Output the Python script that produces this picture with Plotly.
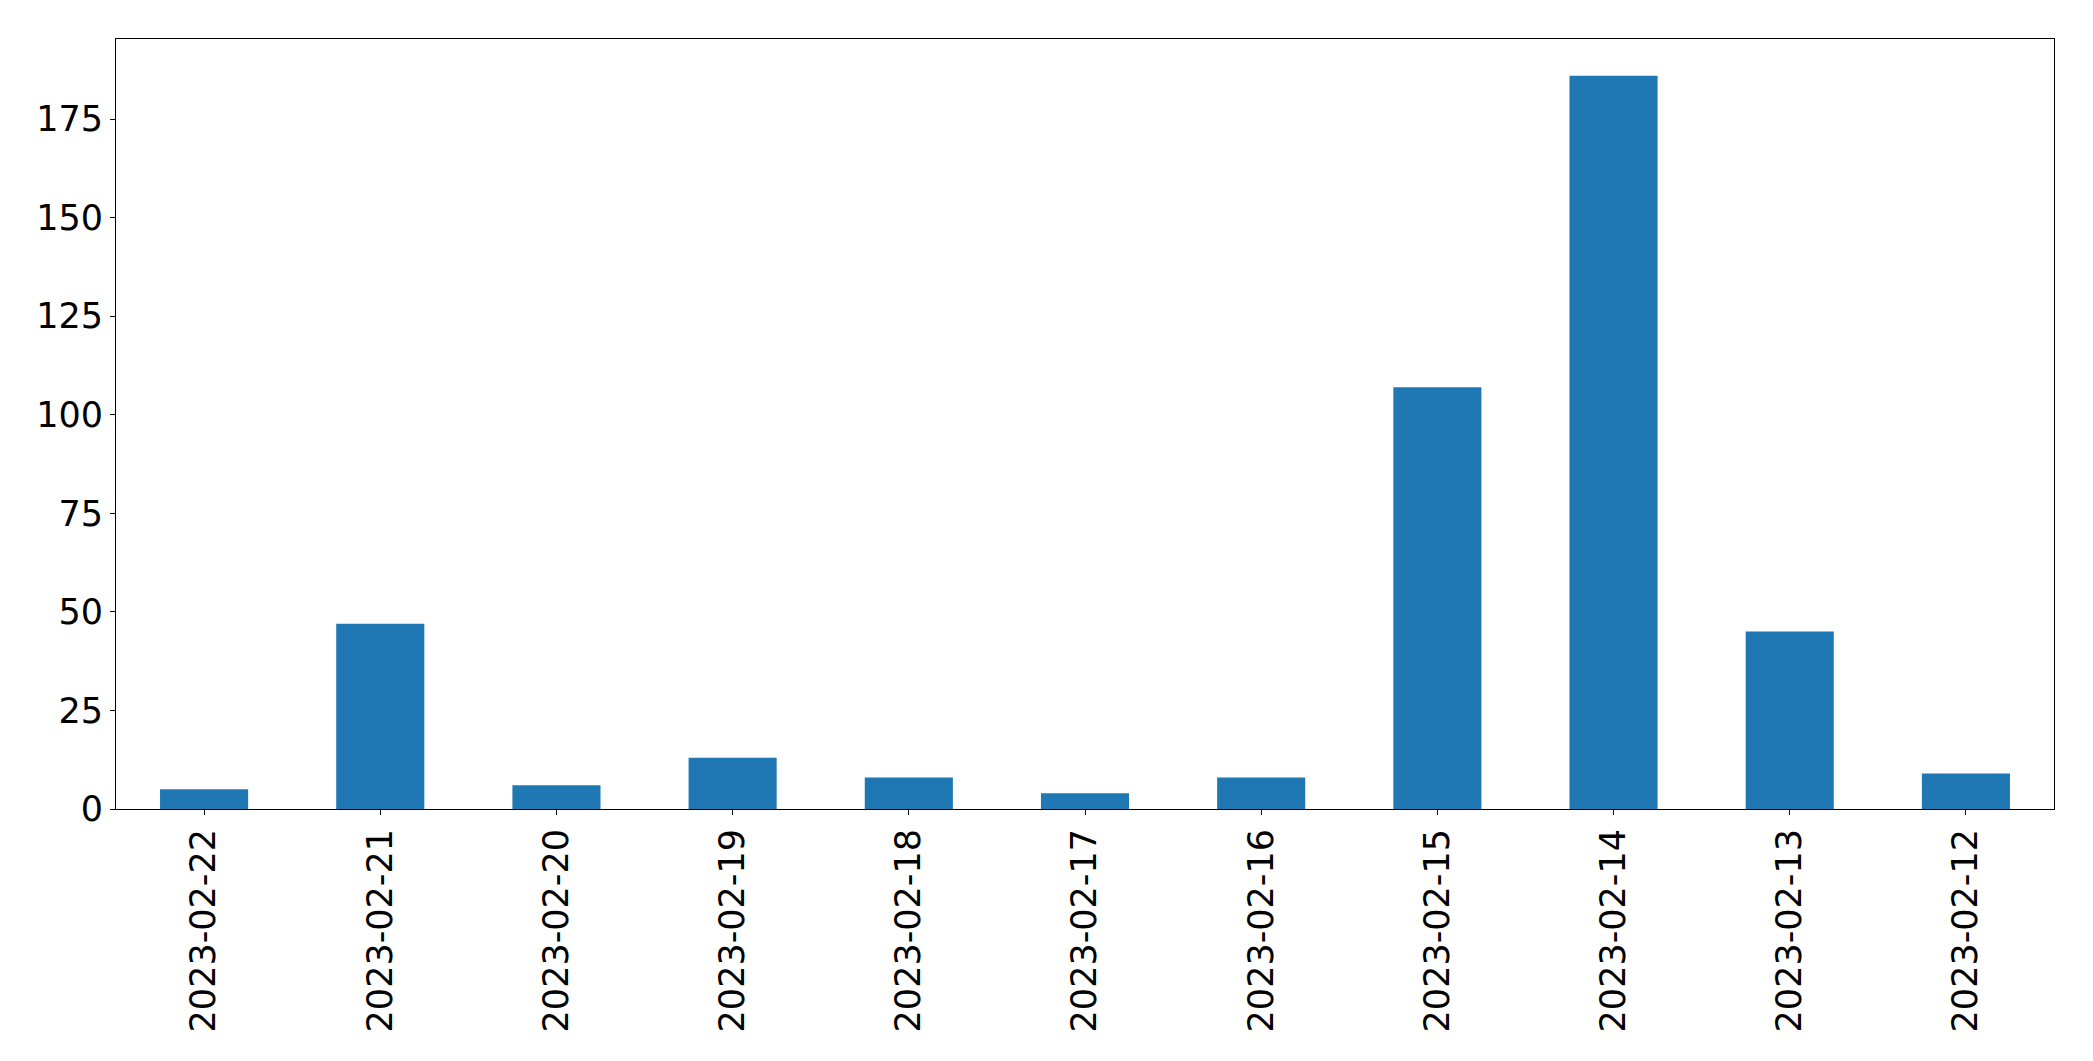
import plotly.graph_objects as go

dates = ["2023-02-22", "2023-02-21", "2023-02-20", "2023-02-19", "2023-02-18",
         "2023-02-17", "2023-02-16", "2023-02-15", "2023-02-14", "2023-02-13",
         "2023-02-12"]
counts = [5, 47, 6, 13, 8, 4, 8, 107, 186, 45, 9]
y_ticks = [0, 25, 50, 75, 100, 125, 150, 175]

fig = go.Figure(go.Bar(x=dates, y=counts, marker=dict(color="#1f77b4", line=dict(width=0)),
                       width=0.5))

axis_common = dict(showline=True, linecolor="black", linewidth=1, mirror=True,
                   ticks="outside", ticklen=5, tickcolor="black", tickwidth=1,
                   showgrid=False, zeroline=False,
                   tickfont=dict(family="DejaVu Sans", size=35, color="black"))

fig.update_layout(
    width=2093, height=1061, autosize=False,
    margin=dict(l=108, r=47, t=31, b=260),
    plot_bgcolor="white", paper_bgcolor="white",
    showlegend=False,
    xaxis=dict(type="category", range=[-0.5, len(dates) - 0.5], tickangle=-90,
               **axis_common),
    yaxis=dict(range=[0, max(counts) * 1.05], tickmode="array", tickvals=y_ticks,
               **axis_common),
)

fig.write_html("out.html")
